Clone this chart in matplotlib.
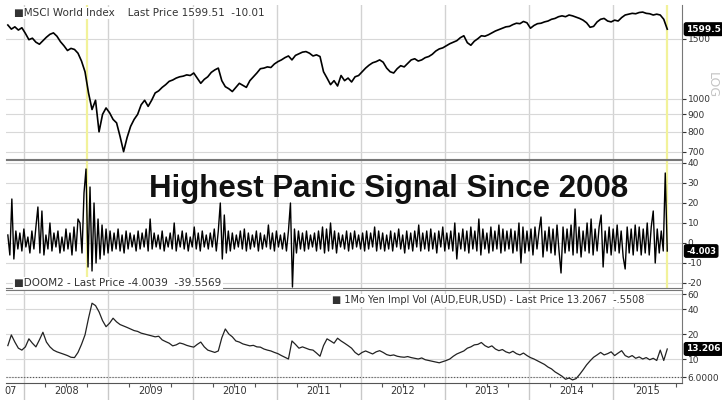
"""Bloomberg-style three panel chart: MSCI World, DOOM2 panic signal and
1M yen implied vol. Writes out.png.
"""

import matplotlib
matplotlib.use("Agg")
import matplotlib.pyplot as plt
import matplotlib.ticker as mticker
import matplotlib.transforms as mtransforms
import pandas as pd

START = "2007-10-22"
END = "2015-08-24"
SPIKE_DATE = "2008-10-01"

# MSCI World Index, about two readings a month
msci = [
    1645, 1600, 1625, 1590, 1615, 1555, 1490, 1505, 1465, 1445,
    1480, 1515, 1545, 1560, 1525, 1470, 1430, 1385, 1405, 1395,
    1360, 1290, 1200, 1040, 930, 990, 800, 900, 940, 910,
    870, 850, 775, 700, 770, 830, 870, 900, 960, 990,
    950, 990, 1040, 1055, 1080, 1100, 1125, 1135, 1150, 1160,
    1165, 1175, 1170, 1190, 1150, 1110, 1140, 1160, 1195, 1215,
    1230, 1130, 1085, 1070, 1050, 1080, 1110, 1095, 1080, 1130,
    1160, 1190, 1225, 1230, 1240, 1235, 1265, 1285, 1300, 1320,
    1335, 1300, 1340, 1355, 1370, 1375, 1360, 1335, 1345, 1330,
    1200, 1150, 1100, 1130, 1090, 1170, 1130, 1150, 1120, 1160,
    1170, 1200, 1230, 1255, 1275, 1285, 1300, 1280, 1230, 1200,
    1190, 1225, 1250, 1240, 1270, 1300, 1310, 1290, 1300, 1320,
    1330, 1350, 1380, 1400, 1410, 1430, 1450, 1465, 1480, 1510,
    1530, 1460, 1435, 1475, 1500, 1530, 1525, 1540, 1560, 1580,
    1595, 1610, 1625, 1630, 1650, 1665, 1660, 1685, 1670, 1610,
    1640, 1660, 1665, 1680, 1690, 1710, 1720, 1740, 1750, 1740,
    1760, 1750, 1735, 1720, 1700, 1670, 1620, 1630, 1680, 1710,
    1720, 1690, 1680, 1700, 1690, 1730, 1760, 1770, 1780, 1775,
    1790, 1795, 1780, 1775, 1760, 1770, 1760, 1710, 1599.51,
]

# DOOM2 panic indicator, roughly two readings a week
doom = [
    4, -6, 22, -8, 6, -3, 5, -4, 7, -2,
    3, -5, 6, -3, 8, 18, -5, 16, -6, 4,
    -3, 10, -4, 5, -2, 6, -5, 3, -4, 7,
    -3, 5, -6, 8, -4, 12, 10, -5, 25, 37,
    -12, 28, -14, 20, -10, 12, -8, 9, -6, 7,
    -5, 6, -4, 5, -3, 7, -4, 4, -5, 6,
    -3, 5, -2, 4, -4, 6, -3, 5, -2, 7,
    -4, 12, -3, 5, -2, 4, -3, 6, -4, 3,
    -2, 5, -3, 10, -4, 4, -2, 6, -3, 5,
    -4, 3, -2, 8, -3, 5, -4, 6, -2, 4,
    -3, 5, -2, 7, -4, 6, 20, -8, 14, -5,
    6, -4, 5, -3, 4, -2, 6, -3, 7, -4,
    5, -3, 4, -2, 6, -4, 5, -3, 4, -2,
    9, -3, 5, -4, 6, -2, 4, -3, 5, -4,
    6, 20, -22, 7, -5, 6, -3, 5, -4, 6,
    -3, 4, -2, 5, -4, 6, -3, 8, -5, 7,
    -4, 10, -3, 6, -5, 5, -2, 4, -3, 6,
    -4, 5, -3, 6, -2, 4, -3, 5, -4, 6,
    -3, 5, -2, 8, -4, 6, -3, 5, -4, 4,
    -3, 6, -4, 5, -2, 7, -3, 4, -5, 6,
    -3, 5, -4, 6, -2, 9, -4, 5, -3, 6,
    -4, 7, -3, 5, -5, 6, -2, 8, -4, 5,
    -3, 6, -4, 10, -8, 5, -3, 7, -4, 6,
    -5, 8, -3, 6, -4, 12, -6, 7, -3, 5,
    -5, 8, -4, 6, -3, 9, -5, 7, -4, 6,
    -3, 7, -5, 6, -4, 10, -10, 8, -5, 6,
    -4, 7, -6, 8, -3, 6, 13, -7, 6, -4,
    8, -5, 7, -6, 9, -4, -15, 8, -5, 7,
    -4, 9, -6, 17, -5, 8, -7, 6, -4, 10,
    -5, 12, -6, 7, -4, 8, 14, -12, 6, -5,
    8, -6, 7, -4, 9, -5, 6, -7, -13, 8,
    -5, 7, -6, 9, -4, 8, -6, 7, -5, 10,
    -6, 8, 16, -10, 7, -5, 6, -4, 35, -4.0039,
]

# 1Mo Yen implied vol (AUD, EUR, USD), about two readings a month
yen_vol = [
    14.5, 19.5, 16.0, 13.5, 12.8, 14.0, 17.5, 15.5, 14.0, 17.0,
    21.0, 16.0, 14.0, 12.8, 12.2, 11.8, 11.4, 11.0, 10.5, 10.4,
    12.0, 15.0, 19.5, 31.0, 47.0, 44.0, 37.0, 29.0, 24.5, 27.0,
    31.0, 28.0, 26.0, 25.0, 24.0, 23.0, 22.0, 21.5, 20.5, 20.0,
    19.5, 19.0, 18.5, 18.8, 17.0, 16.2, 15.5, 14.4, 14.8, 15.6,
    15.2, 14.6, 14.2, 13.9, 15.0, 16.0, 14.0, 12.8, 12.4, 12.0,
    12.5, 18.0, 23.0, 20.0, 18.5, 16.5, 16.0, 15.2, 14.8, 14.4,
    14.6, 14.0, 13.9, 13.2, 12.8, 12.5, 12.0, 11.6, 11.0, 10.5,
    10.0, 16.5, 15.0, 13.5, 14.0, 13.5, 13.0, 12.8, 11.8, 10.8,
    14.5, 17.5, 16.5, 15.5, 17.8, 16.5, 15.5, 14.5, 13.5, 12.0,
    11.2, 12.0, 12.5, 12.0, 11.5, 12.2, 12.6, 12.0, 11.3, 11.0,
    11.2, 10.8, 10.6, 10.5, 10.7, 10.4, 10.2, 10.0, 10.3, 9.8,
    9.6, 9.4, 9.2, 9.0, 9.3, 9.6, 10.0, 10.8, 11.5, 12.0,
    12.5, 13.5, 14.0, 14.8, 15.0, 15.8, 14.5, 13.8, 14.4, 13.2,
    12.6, 13.0, 12.2, 11.8, 12.4, 11.6, 11.2, 11.8, 11.0, 10.4,
    10.0, 9.5, 9.0, 8.6, 8.0, 7.6, 7.0, 6.6, 6.2, 5.7,
    5.9, 5.6, 5.8, 6.5, 7.4, 8.5, 9.5, 10.5, 11.2, 12.0,
    11.2, 11.6, 12.2, 11.0, 11.8, 12.6, 11.0, 10.5, 11.0, 10.2,
    10.6, 10.0, 10.4, 9.8, 10.2, 9.6, 12.8, 9.6, 13.2067,
]

years = list(range(2008, 2016))
msci_ticks = [1500, 1000, 900, 800, 700]
doom_ticks = [40, 30, 20, 10, 0, -10, -20]
vol_ticks = [60, 40, 20, 10, 6]
vol_tick_labels = ["60", "40", "20", "10", "6.0000"]

XMIN = pd.Timestamp("2007-10-14")
XMAX = pd.Timestamp("2015-10-27")


def style_panel(ax, ticks, labels):
    ax.yaxis.tick_right()
    ax.yaxis.set_major_locator(mticker.FixedLocator(ticks))
    ax.yaxis.set_major_formatter(mticker.FixedFormatter(labels))
    ax.yaxis.set_minor_locator(mticker.NullLocator())
    ax.tick_params(axis="y", which="both", direction="out", length=3, width=0.8,
                   labelsize=6.5, pad=1, colors="#333333")
    ax.spines["left"].set_visible(False)
    for s in ("top", "bottom", "right"):
        ax.spines[s].set_color("#777777")
    ax.grid(axis="y", color="#d8d8d8", lw=0.8)
    ax.set_axisbelow(True)
    for y in years:
        ax.axvline(pd.Timestamp(f"{y}-01-01"), color="#d2d2d2", lw=1.0, zorder=0)
    ax.set_xlim(XMIN, XMAX)


def last_tag(ax, value, size=6.5):
    tr = mtransforms.blended_transform_factory(ax.transAxes, ax.transData)
    ax.annotate(str(value)[:6], xy=(1, value), xycoords=tr, xytext=(3, 0),
                textcoords="offset points", ha="left", va="center", color="white",
                fontsize=size, fontweight="bold", annotation_clip=False,
                bbox=dict(boxstyle="round,pad=0.2", fc="black", ec="black"))


def main():
    d_msci = pd.date_range(START, END, periods=len(msci))
    d_doom = pd.date_range(START, END, periods=len(doom))
    d_vol = pd.date_range(START, END, periods=len(yen_vol))

    fig = plt.figure(figsize=(7.22, 4.0), dpi=100)
    left, width = 6 / 722, 676 / 722
    ax1 = fig.add_axes([left, 1 - 159 / 400, width, 154 / 400])
    ax2 = fig.add_axes([left, 1 - 288 / 400, width, 128 / 400])
    ax3 = fig.add_axes([left, 1 - 383 / 400, width, 93 / 400])

    # Top: MSCI World (log)
    ax1.set_yscale("log")
    ax1.set_ylim(666, 1883)
    for d in (SPIKE_DATE, END):
        ax1.axvline(pd.Timestamp(d), color="#f2f29a", lw=1.6, zorder=1)
    ax1.plot(d_msci, msci, color="black", lw=1.2, zorder=3)
    style_panel(ax1, msci_ticks, [str(t) for t in msci_ticks])
    ax1.spines["top"].set_visible(False)
    ax1.text(0.012, 0.948, "\u25a0MSCI World Index    Last Price 1599.51  -10.01",
             transform=ax1.transAxes, fontsize=7.5, color="#333333", va="center",
             bbox=dict(facecolor="white", edgecolor="none", pad=1))
    last_tag(ax1, msci[-1])

    # Middle: DOOM2
    ax2.set_ylim(-22.5, 41.5)
    for d in (SPIKE_DATE, END):
        ax2.axvline(pd.Timestamp(d), color="#f2f29a", lw=1.6, zorder=1)
    ax2.plot(d_doom, doom, color="black", lw=1.0, zorder=3)
    style_panel(ax2, doom_ticks, [str(t) for t in doom_ticks])
    ax2.text(0.5666, 0.773, "Highest Panic Signal Since 2008", transform=ax2.transAxes,
             family="Liberation Sans", fontweight="bold", fontsize=22.5,
             ha="center", va="center", color="#111111", zorder=4)
    ax2.text(0.012, 0.04, "\u25a0DOOM2 - Last Price -4.0039  -39.5569",
             transform=ax2.transAxes, fontsize=7.5, color="#333333", va="center",
             bbox=dict(facecolor="white", edgecolor="none", pad=1), zorder=5)
    last_tag(ax2, doom[-1], size=6)

    # Bottom: yen vol (log)
    ax3.set_yscale("log")
    ax3.set_ylim(5.14, 67.8)
    ax3.axhline(6, color="#555555", lw=0.8, ls=":", zorder=2)
    ax3.plot(d_vol, yen_vol, color="#222222", lw=0.9, zorder=3)
    style_panel(ax3, vol_ticks, vol_tick_labels)
    ax3.spines["bottom"].set_color("#555555")
    ax3.text(0.945, 0.89,
             "\u25a0 1Mo Yen Impl Vol (AUD,EUR,USD) - Last Price 13.2067  -.5508",
             transform=ax3.transAxes, fontsize=7.0, color="#333333", ha="right",
             va="center", bbox=dict(facecolor="white", edgecolor="none", pad=1), zorder=5)
    last_tag(ax3, yen_vol[-1])

    for ax in (ax1, ax2):
        ax.tick_params(axis="x", which="both", bottom=False, labelbottom=False)

    # x axis: year dividers, quarter ticks, year labels centred in visible span
    ax3.set_xticks([pd.Timestamp(f"{y}-01-01") for y in years])
    ax3.set_xticks([pd.Timestamp(f"{y}-{m:02d}-01") for y in [2007] + years
                    for m in (4, 7, 10)
                    if XMIN <= pd.Timestamp(f"{y}-{m:02d}-01") <= XMAX], minor=True)
    ax3.tick_params(axis="x", which="major", length=17, width=1.0, color="#c8c8c8",
                    labelbottom=False)
    ax3.tick_params(axis="x", which="minor", length=3, width=0.8, color="#555555")
    tr = mtransforms.blended_transform_factory(ax3.transData, ax3.transAxes)
    for y in years:
        a = max(pd.Timestamp(f"{y}-01-01"), XMIN)
        b = min(pd.Timestamp(f"{y + 1}-01-01"), XMAX)
        ax3.text(a + (b - a) / 2, -0.086, str(y), transform=tr, ha="center",
                 va="center", fontsize=7, color="#333333", clip_on=False)
    fig.text(17 / 722, 1 - 391 / 400, "07", ha="right", va="center", fontsize=7,
             color="#333333")
    fig.text(0.986, 0.7875, "LOG", rotation=270, ha="center", va="center",
             fontsize=9, color="#c4c4c4")

    fig.savefig("out.png", dpi=100)


if __name__ == "__main__":
    main()
